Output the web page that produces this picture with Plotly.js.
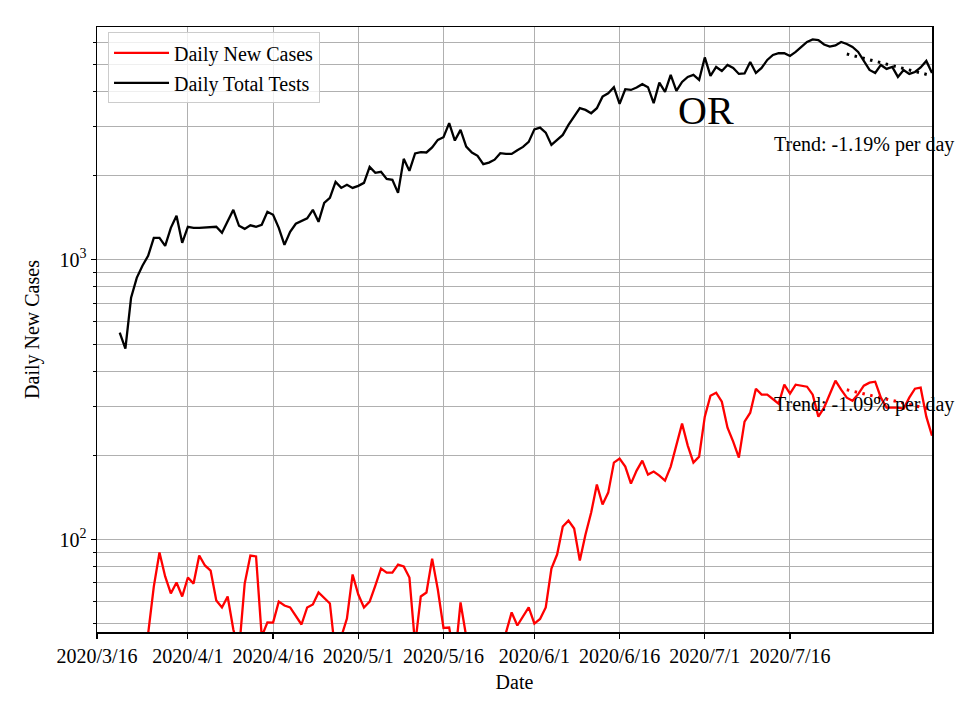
<!DOCTYPE html>
<html><head><meta charset="utf-8">
<script src="https://cdn.plot.ly/plotly-3.0.1.min.js"></script>
<style>html,body{margin:0;padding:0;background:#fff}#chart{width:960px;height:720px}</style>
</head><body><div id="chart"></div>
<script>
// Daily dates (month/day, 2020)
const dayLabels = [
 '3/20','3/21','3/22','3/23','3/24','3/25','3/26','3/27','3/28','3/29','3/30','3/31',
 '4/1','4/2','4/3','4/4','4/5','4/6','4/7','4/8','4/9','4/10','4/11','4/12','4/13','4/14','4/15',
 '4/16','4/17','4/18','4/19','4/20','4/21','4/22','4/23','4/24','4/25','4/26','4/27','4/28','4/29','4/30',
 '5/1','5/2','5/3','5/4','5/5','5/6','5/7','5/8','5/9','5/10','5/11','5/12','5/13','5/14','5/15',
 '5/16','5/17','5/18','5/19','5/20','5/21','5/22','5/23','5/24','5/25','5/26','5/27','5/28','5/29','5/30','5/31',
 '6/1','6/2','6/3','6/4','6/5','6/6','6/7','6/8','6/9','6/10','6/11','6/12','6/13','6/14','6/15',
 '6/16','6/17','6/18','6/19','6/20','6/21','6/22','6/23','6/24','6/25','6/26','6/27','6/28','6/29','6/30',
 '7/1','7/2','7/3','7/4','7/5','7/6','7/7','7/8','7/9','7/10','7/11','7/12','7/13','7/14','7/15',
 '7/16','7/17','7/18','7/19','7/20','7/21','7/22','7/23','7/24','7/25','7/26','7/27','7/28','7/29','7/30','7/31',
 '8/1','8/2','8/3','8/4','8/5','8/6','8/7','8/8','8/9','8/10'
];
const dailyTests = [
 549,481,732,862,952,1033,1198,1198,1122,1301,
 1436,1150,1312,1301,1301,1306,1315,1312,1249,1378,
 1509,1323,1290,1328,1312,1334,1484,1448,1301,1131,
 1259,1345,1378,1406,1509,1367,1598,1665,1899,1807,
 1853,1807,1838,1884,2148,2045,2062,1946,1931,1735,
 2295,2079,2401,2424,2419,2522,2683,2743,3078,2668,
 2913,2539,2417,2353,2197,2226,2280,2405,2391,2391,
 2465,2533,2639,2925,2969,2849,2575,2694,2795,3035,
 3241,3482,3433,3341,3482,3830,3939,4139,3607,4071,
 4047,4126,4243,4139,3628,4299,3981,4579,4014,4323,
 4505,4579,4394,5287,4542,4890,4732,4971,4850,4617,
 4636,5097,4655,4850,5180,5397,5474,5474,5354,5533,
 5765,6006,6131,6105,5883,5779,5836,6006,5907,5765,
 5533,5139,4770,4655,4971,4810,4890,4505,4770,4617,
 4692,4870,5139,4655
];
const dailyCases = [
 38,35,40,36,40,46,67.9,89.9,73.8,64.2,
 70.2,62.6,73.2,69.6,87.7,80.8,77.5,60.6,57.2,62.6,
 47.7,40,69.6,87.7,87.0,45,50.6,50.5,60.0,58.1,
 57.2,53.1,49.7,57.2,58.6,64.7,61.6,59.1,38.6,45,
 52.2,75.0,63.6,57.2,60.0,68.5,78.8,76.2,76.2,81.4,
 80.1,73.2,42,62.6,64.7,85.5,66.3,48.3,48.5,37,
 59.6,45,42,39,44,37,41,43,46.5,54.9,
 49.3,53.1,57.2,50.1,52.0,57.2,78.8,88.4,111.3,116.9,
 109.5,84.1,104.2,124.9,157.2,133.4,147.2,188.4,194.7,182.3,
 158.5,176.4,191.5,170.7,175.0,169.3,162.4,182.3,220.3,259.6,
 216.7,188.4,197.9,275.0,326.8,335.0,311.1,251.2,223.9,196.3,
 263.9,284.1,346.2,329.6,329.6,317.6,305.9,357.8,332.2,357.8,
 354.8,351.9,329.6,275.0,296.1,332.2,369.7,343.4,321.5,313.6,
 331,354.8,363.6,366.6,321.5,296.1,296.1,296.1,293.7,321.5,
 346.2,349.1,275.0,235.2
];
// Trend fit endpoints
const trendDates = ['2020-07-26','2020-08-10'];
const testsTrend = [5441, 4547];
const casesTrend = [343, 291];

const xTickDates = ['2020-03-16','2020-04-01','2020-04-16','2020-05-01','2020-05-16','2020-06-01','2020-06-16','2020-07-01','2020-07-16'];
const xTickLabels = ['2020/3/16','2020/4/1','2020/4/16','2020/5/1','2020/5/16','2020/6/1','2020/6/16','2020/7/1','2020/7/16'];
const yTickVals = [100, 1000];
const yTickLabels = ['10<sup>2</sup>','10<sup>3</sup>'];
const yMinorVals = [50,60,70,80,90,200,300,400,500,600,700,800,900,2000,3000,4000,5000,6000];

const dates = dayLabels.map(s => { const p = s.split('/'); return '2020-' + p[0].padStart(2,'0') + '-' + p[1].padStart(2,'0'); });

const FONT = 'Liberation Serif, Times New Roman, serif';
const GRID = '#b0b0b0';

const traces = [
  {x: dates, y: dailyCases, type: 'scatter', mode: 'lines', name: 'Daily New Cases',
   line: {color: '#ff0000', width: 2.3}, legendgroup: 'a'},
  {x: dates, y: dailyTests, type: 'scatter', mode: 'lines', name: 'Daily Total Tests',
   line: {color: '#000000', width: 2.3}, legendgroup: 'b'},
  {x: trendDates, y: testsTrend, type: 'scatter', mode: 'lines', showlegend: false,
   line: {color: '#000000', width: 3, dash: '2.5px,5.5px'}},
  {x: trendDates, y: casesTrend, type: 'scatter', mode: 'lines', showlegend: false,
   line: {color: '#ff0000', width: 3, dash: '2.5px,5.5px'}}
];

const layout = {
  width: 960, height: 720,
  margin: {l: 97, r: 28, t: 27, b: 88},
  paper_bgcolor: '#ffffff', plot_bgcolor: '#ffffff',
  font: {family: FONT, size: 20, color: '#000000'},
  showlegend: true,
  legend: {x: 0.0132, y: 0.991, xanchor: 'left', yanchor: 'top',
    bgcolor: 'rgba(255,255,255,0.8)', bordercolor: '#cccccc', borderwidth: 1,
    itemwidth: 55,
    font: {family: FONT, size: 20, color: '#000'}, tracegroupgap: 1},
  xaxis: {
    type: 'date', range: ['2020-03-16', '2020-08-10'],
    tickmode: 'array', tickvals: xTickDates, ticktext: xTickLabels,
    ticks: 'outside', ticklen: 5, tickwidth: 1.2, tickcolor: '#000',
    showgrid: true, gridcolor: GRID, gridwidth: 1,
    showline: true, mirror: true, linecolor: '#000', linewidth: 1.5,
    zeroline: false,
    tickfont: {family: FONT, size: 20, color: '#000'},
    title: {text: 'Date', font: {family: FONT, size: 20, color: '#000'}, standoff: 9}
  },
  yaxis: {
    type: 'log', range: [1.6696, 3.8321],
    tickmode: 'array', tickvals: yTickVals, ticktext: yTickLabels,
    ticks: 'outside', ticklen: 5, tickwidth: 1.2, tickcolor: '#000',
    showgrid: true, gridcolor: GRID, gridwidth: 1,
    minor: {tickmode: 'array', tickvals: yMinorVals, ticks: 'outside', ticklen: 3, tickwidth: 1, tickcolor: '#000',
            showgrid: true, gridcolor: GRID, gridwidth: 1},
    showline: true, mirror: true, linecolor: '#000', linewidth: 1.5,
    zeroline: false,
    tickfont: {family: FONT, size: 20, color: '#000'},
    title: {text: 'Daily New Cases', font: {family: FONT, size: 20, color: '#000'}, standoff: 14}
  },
  annotations: [
    {xref: 'paper', yref: 'paper', x: 0.6935, y: 0.8628, xanchor: 'left', yanchor: 'middle',
     text: 'OR', showarrow: false, font: {family: FONT, size: 40, color: '#000'}},
    {xref: 'paper', yref: 'paper', x: 0.8084, y: 0.8058, xanchor: 'left', yanchor: 'middle',
     text: 'Trend: -1.19% per day', showarrow: false, font: {family: FONT, size: 20, color: '#000'}},
    {xref: 'paper', yref: 'paper', x: 0.8084, y: 0.3757, xanchor: 'left', yanchor: 'middle',
     text: 'Trend: -1.09% per day', showarrow: false, font: {family: FONT, size: 20, color: '#000'}}
  ]
};

Plotly.newPlot('chart', traces, layout, {displayModeBar: false, staticPlot: true});
</script>
</body></html>
